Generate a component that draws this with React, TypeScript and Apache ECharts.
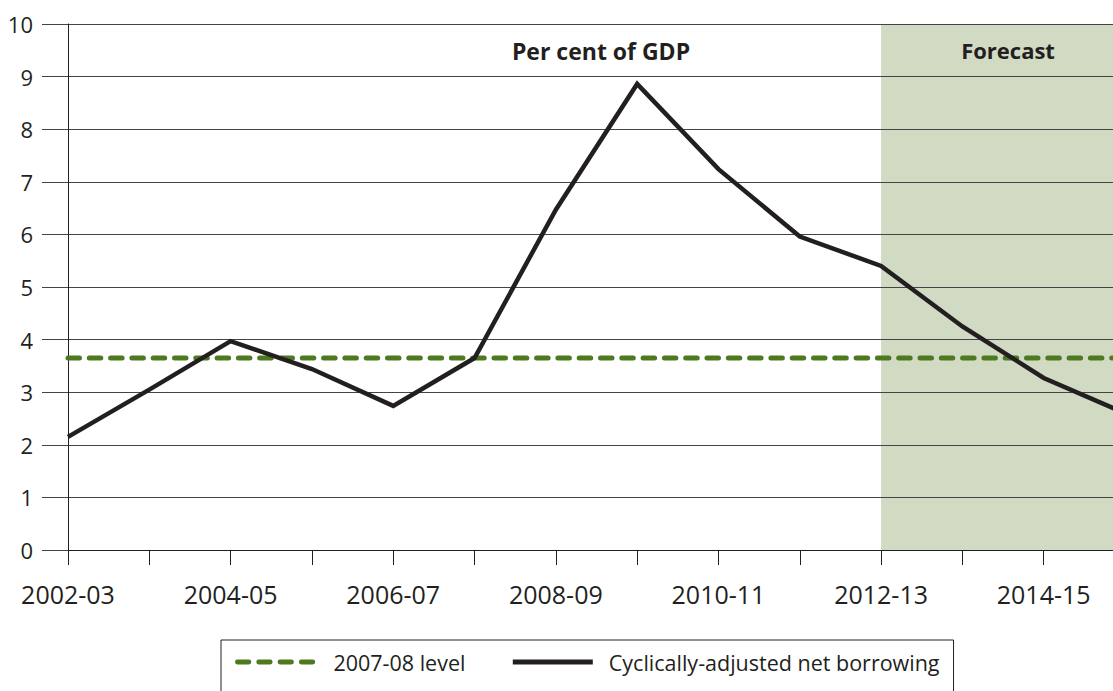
import React, { useEffect, useRef } from "react";
import * as echarts from "echarts";

const categories = [
  "2002-03", "2003-04", "2004-05", "2005-06", "2006-07", "2007-08", "2008-09",
  "2009-10", "2010-11", "2011-12", "2012-13", "2013-14", "2014-15", "2015-16",
];
const netBorrowing = [2.15, 3.05, 3.97, 3.44, 2.74, 3.65, 6.47, 8.86, 7.24, 5.96, 5.4, 4.25, 3.27, 2.6];
const level200708 = 3.65;
const levelLine = categories.map(() => level200708);
const forecastRange = ["2012-13", "2015-16"];
const yMin = 0;
const yMax = 10;
const yInterval = 1;

const FONT = "'Open Sans', 'Noto Sans', sans-serif";
const INK = "#231f20";

export default function App() {
  const ref = useRef<HTMLDivElement>(null);
  useEffect(() => {
    if (!ref.current) return;
    const chart = echarts.init(ref.current, undefined, { renderer: "svg" });
    chart.setOption({
      animation: false,
      backgroundColor: "#ffffff",
      title: {
        text: "Per cent of GDP",
        left: 596,
        top: 32,
        textAlign: "center",
        textStyle: { fontFamily: FONT, fontWeight: "bold", fontSize: 23, color: INK, lineHeight: 28 },
      },
      grid: { left: 68, right: 0, top: 24, bottom: 141, containLabel: false },
      legend: {
        data: ["2007-08 level", "Cyclically-adjusted net borrowing"],
        left: 221,
        top: 640,
        orient: "horizontal",
        itemWidth: 80,
        itemHeight: 24,
        itemGap: 45,
        padding: [11, 14, 20, 14],
        borderColor: INK,
        borderWidth: 1,
        itemStyle: { opacity: 0 },
        lineStyle: { width: 4.8 },
        textStyle: { fontFamily: FONT, fontSize: 21.5, color: INK, padding: [0, 0, 0, 11] },
      },
      xAxis: {
        type: "category",
        data: categories,
        boundaryGap: false,
        z: 3,
        axisLine: { show: true, lineStyle: { color: INK, width: 1 } },
        axisTick: { show: true, interval: 0, length: 15, lineStyle: { color: INK, width: 1 } },
        axisLabel: { interval: 1, margin: 31, fontFamily: FONT, fontSize: 25, color: INK },
        splitLine: { show: false },
      },
      yAxis: {
        type: "value",
        min: yMin,
        max: yMax,
        interval: yInterval,
        z: 3,
        axisLine: { show: true, lineStyle: { color: INK, width: 1 } },
        axisTick: { show: true, length: 26, lineStyle: { color: "#444", width: 1 } },
        axisLabel: { margin: 35, fontFamily: FONT, fontSize: 22, color: INK },
        splitLine: { show: true, lineStyle: { color: "#444", width: 1 } },
      },
      series: [
        {
          name: "Forecast",
          type: "line",
          data: [],
          z: 1,
          silent: true,
          markArea: {
            silent: true,
            itemStyle: { color: "#d1dbc3" },
            label: {
              show: true,
              position: "insideTop",
              distance: 13,
              offset: [5, 0],
              fontFamily: FONT,
              fontWeight: "bold",
              fontSize: 22,
              lineHeight: 26,
              color: INK,
            },
            data: [[{ xAxis: forecastRange[0], name: "Forecast" }, { xAxis: forecastRange[1] }]],
          },
        },
        {
          name: "2007-08 level",
          type: "line",
          data: levelLine,
          z: 4,
          symbol: "none",
          silent: true,
          lineStyle: { color: "#4e7a1f", width: 5, type: [11.5, 9.8], cap: "round" },
          itemStyle: { color: "#4e7a1f" },
        },
        {
          name: "Cyclically-adjusted net borrowing",
          type: "line",
          data: netBorrowing,
          z: 5,
          symbol: "none",
          silent: true,
          lineStyle: { color: INK, width: 4.5, join: "miter" },
          itemStyle: { color: INK },
        },
      ],
    });
    return () => chart.dispose();
  }, []);
  return (
    <div style={{ position: "fixed", left: 0, top: 0, width: 1113, height: 691, overflow: "hidden", background: "#fff" }}>
      <div ref={ref} style={{ width: 1125, height: 691 }} />
    </div>
  );
}
